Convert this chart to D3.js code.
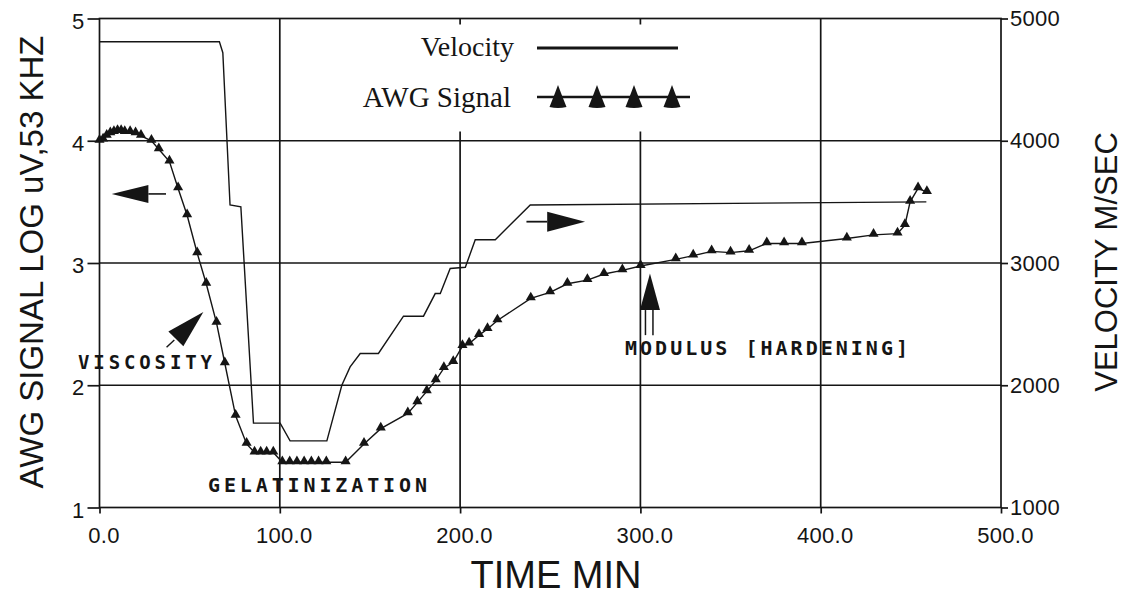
<!DOCTYPE html>
<html><head><meta charset="utf-8">
<script src="https://cdn.jsdelivr.net/npm/d3@7/dist/d3.min.js"></script>
<style>body{margin:0;background:#fff;} svg{display:block}</style>
</head><body>
<svg id="c" width="1126" height="596"></svg>
<script>
// ---- data ----
const timeTicks = [0, 100, 200, 300, 400, 500];
const signalTicks = [1, 2, 3, 4, 5];
const velocityTicks = [1000, 2000, 3000, 4000, 5000];

const velocityTime  = [0, 66.5, 68.4, 72.4, 78.4, 85.4, 100.2, 105.7, 126.1, 134.4, 139, 144.6, 154.7, 168.6, 179.7, 186.2, 189, 194.5, 202.9, 208.4, 219.5, 238.9, 458.6];
const velocityValue = [4810, 4810, 4720, 3475, 3460, 1690, 1690, 1545, 1545, 2000, 2150, 2260, 2260, 2565, 2565, 2750, 2750, 2955, 2965, 3190, 3190, 3475, 3500];

const signalTime  = [0, 2, 4, 6, 8, 10, 12, 14, 17, 20, 23, 28.8, 32.9, 38.8, 43.6, 48.6, 54.2, 59.2, 64.9, 69.5, 75.5, 81.6, 86, 89.4, 92.7, 96.4, 101.4, 105.5, 109.5, 113.5, 117.5, 121.5, 125.8, 136.5, 146.7, 156, 171, 176.3, 181.5, 186.5, 191, 196.2, 201.3, 205, 210.5, 215.2, 220.7, 239.2, 249.9, 259.5, 270.6, 279.8, 290, 300.1, 319.6, 329.3, 339.5, 350, 360.3, 370.1, 379.7, 389.6, 414.5, 429.3, 442.6, 446.7, 449.6, 454, 458.9];
const signalValue = [4.0, 4.01, 4.04, 4.06, 4.07, 4.08, 4.08, 4.07, 4.07, 4.06, 4.04, 4.0, 3.93, 3.83, 3.61, 3.39, 3.08, 2.83, 2.51, 2.18, 1.75, 1.52, 1.45, 1.45, 1.45, 1.45, 1.37, 1.37, 1.37, 1.37, 1.37, 1.37, 1.37, 1.37, 1.52, 1.645, 1.77, 1.86, 1.95, 2.04, 2.14, 2.19, 2.32, 2.34, 2.41, 2.46, 2.53, 2.71, 2.76, 2.83, 2.86, 2.91, 2.94, 2.975, 3.03, 3.06, 3.095, 3.085, 3.10, 3.16, 3.16, 3.16, 3.20, 3.23, 3.24, 3.31, 3.50, 3.61, 3.58];

const legendLabels = ["Velocity", "AWG Signal"];
const axisTitles = {x: "TIME MIN", left: "AWG SIGNAL LOG uV,53 KHZ", right: "VELOCITY M/SEC"};
const noteLabels = ["VISCOSITY", "GELATINIZATION", "MODULUS [HARDENING]"];

// ---- drawing ----
const ink = "#151515";
const svg = d3.select("#c");
svg.append("rect").attr("width", 1126).attr("height", 596).attr("fill", "#fff");

const x = d3.scaleLinear().domain([0, 500]).range([99.5, 1001]);
const yL = d3.scaleLinear().domain([1, 5]).range([507.5, 18.5]);
const yR = d3.scaleLinear().domain([1000, 5000]).range([507.5, 18.5]);

const grid = svg.append("g").attr("stroke", ink).attr("stroke-width", 1.7);
grid.selectAll("line.h").data(signalTicks.filter(d => d > 1 && d < 5)).join("line")
  .attr("class", "h").attr("x1", x(0)).attr("x2", x(500))
  .attr("y1", d => yL(d)).attr("y2", d => yL(d));
grid.selectAll("line.v").data(timeTicks.filter(d => d > 0 && d < 500)).join("line")
  .attr("class", "v").attr("y1", yL(1)).attr("y2", yL(5))
  .attr("x1", d => x(d)).attr("x2", d => x(d));
grid.append("rect").attr("x", x(0)).attr("y", yL(5))
  .attr("width", x(500) - x(0)).attr("height", yL(1) - yL(5)).attr("fill", "none");

// legend background (interrupts the grid like the original)
svg.append("rect").attr("x", 340).attr("y", yL(5) + 6).attr("width", 365).attr("height", 107).attr("fill", "#fff");

// axes
const tickFont = "'Liberation Sans', Arial, sans-serif";
function styleAxis(g) {
  g.select(".domain").remove();
  g.selectAll(".tick line").attr("stroke", ink).attr("stroke-width", 1.7);
  g.selectAll(".tick text").attr("fill", ink).style("font-family", tickFont)
    .style("font-size", "22px").style("letter-spacing", "0.3px");
}
svg.append("g").attr("transform", `translate(${x(0)},0)`)
  .call(d3.axisLeft(yL).tickValues(signalTicks).tickFormat(d3.format("d")).tickSize(12).tickPadding(3))
  .call(styleAxis)
  .call(g => g.selectAll(".tick text").attr("y", 2.5));
svg.append("g").attr("transform", `translate(${x(500)},0)`)
  .call(d3.axisRight(yR).tickValues(velocityTicks).tickFormat(d3.format("d")).tickSize(7).tickPadding(2))
  .call(styleAxis);
svg.append("g").attr("transform", `translate(0,${yL(1)})`)
  .call(d3.axisBottom(x).tickValues(timeTicks).tickFormat(d3.format(".1f")).tickSize(6).tickPadding(14))
  .call(styleAxis)
  .call(g => g.selectAll(".tick text").attr("dx", 4));

// axis titles
const titleFont = "'Liberation Sans', Arial, sans-serif";
svg.append("text").attr("x", 556).attr("y", 588).attr("text-anchor", "middle")
  .style("font-family", titleFont).style("font-size", "38px").attr("fill", ink).text(axisTitles.x);
svg.append("text").attr("transform", "translate(43,262) rotate(-90)").attr("text-anchor", "middle")
  .style("font-family", titleFont).style("font-size", "33px").attr("fill", ink).text(axisTitles.left);
svg.append("text").attr("transform", "translate(1117,262) rotate(-90)").attr("text-anchor", "middle")
  .style("font-family", titleFont).style("font-size", "31px").attr("fill", ink).text(axisTitles.right);

// velocity line
const idxV = d3.range(velocityTime.length);
svg.append("path").datum(idxV)
  .attr("d", d3.line().x(i => x(velocityTime[i])).y(i => yR(velocityValue[i])))
  .attr("fill", "none").attr("stroke", ink).attr("stroke-width", 1.4);

// signal line + triangles
const idxS = d3.range(signalTime.length);
svg.append("path").datum(idxS)
  .attr("d", d3.line().x(i => x(signalTime[i])).y(i => yL(signalValue[i])))
  .attr("fill", "none").attr("stroke", ink).attr("stroke-width", 1.4);
const tri = d3.symbol(d3.symbolTriangle, 44);
svg.selectAll("path.tri").data(idxS).join("path").attr("class", "tri")
  .attr("d", tri)
  .attr("transform", i => `translate(${x(signalTime[i])},${yL(signalValue[i]) - 1})`)
  .attr("fill", ink);

// legend
const legFont = "'Liberation Serif', 'Times New Roman', serif";
svg.append("text").attr("x", 514).attr("y", 56).attr("text-anchor", "end")
  .style("font-family", legFont).style("font-size", "28px").attr("fill", ink).text(legendLabels[0]);
svg.append("line").attr("x1", 537).attr("x2", 678).attr("y1", 48).attr("y2", 48)
  .attr("stroke", ink).attr("stroke-width", 3.2);
svg.append("text").attr("x", 511).attr("y", 107).attr("text-anchor", "end")
  .style("font-family", legFont).style("font-size", "29px").attr("fill", ink).text(legendLabels[1]);
svg.append("line").attr("x1", 537).attr("x2", 690).attr("y1", 97).attr("y2", 97)
  .attr("stroke", ink).attr("stroke-width", 2.6);
svg.selectAll("path.legtri").data([558, 597, 634, 672]).join("path").attr("class", "legtri")
  .attr("d", "M0,-22 L3,-14 L8.5,0 Q0,2 -8.5,0 L-3,-14 Z")
  .attr("transform", d => `translate(${d},107)`).attr("fill", ink);

// annotation arrows (in data units via scales)
const P = (t, s) => [x(t), yL(s)];
function poly(pts) { return "M" + pts.map(p => p.join(",")).join("L") + "Z"; }
{
  const tip = P(6.8, 3.565), base = P(27.1, 3.565), tail = P(36.9, 3.565);
  svg.append("path").attr("d", poly([tip, [base[0], base[1] - 9], [base[0], base[1] + 9]])).attr("fill", ink);
  svg.append("line").attr("x1", base[0]).attr("x2", tail[0]).attr("y1", tip[1]).attr("y2", tip[1]).attr("stroke", ink).attr("stroke-width", 1.6);
}
{
  const tail = P(236.8, 3.338), base = P(248.3, 3.338), tip = P(269.3, 3.338);
  svg.append("path").attr("d", poly([tip, [base[0], base[1] - 10], [base[0], base[1] + 10]])).attr("fill", ink);
  svg.append("line").attr("x1", tail[0]).attr("x2", base[0]).attr("y1", tip[1]).attr("y2", tip[1]).attr("stroke", ink).attr("stroke-width", 1.8);
}
{
  const tip = P(57.6, 2.60), c1 = P(38.2, 2.44), c2 = P(46.5, 2.32), s1 = P(41.5, 2.37), s2 = P(37.2, 2.31);
  svg.append("path").attr("d", poly([tip, c1, c2])).attr("fill", ink);
  svg.append("line").attr("x1", s1[0]).attr("y1", s1[1]).attr("x2", s2[0]).attr("y2", s2[1]).attr("stroke", ink).attr("stroke-width", 1.4);
}
{
  const tip = P(305.3, 2.915), base = P(305.3, 2.615), end = P(305.3, 2.41);
  svg.append("path").attr("d", poly([tip, [base[0] - 10, base[1]], [base[0] + 10, base[1]]])).attr("fill", ink);
  [-4.5, 3].forEach(dx => svg.append("line").attr("x1", tip[0] + dx).attr("x2", tip[0] + dx)
    .attr("y1", base[1]).attr("y2", end[1]).attr("stroke", ink).attr("stroke-width", 1.5));
}

// annotation labels
const noteFont = "'DejaVu Sans Mono', 'Liberation Mono', monospace";
const notePos = [[78, 369, 134, 19], [208, 492, 219, 20], [625, 355, 283, 20]];
noteLabels.forEach((t, i) => {
  svg.append("text").attr("x", notePos[i][0]).attr("y", notePos[i][1])
    .attr("textLength", notePos[i][2]).attr("lengthAdjust", "spacing")
    .style("font-family", noteFont).style("font-size", notePos[i][3] + "px").style("font-weight", "bold")
    .attr("fill", ink).text(t);
});
</script>
</body></html>
